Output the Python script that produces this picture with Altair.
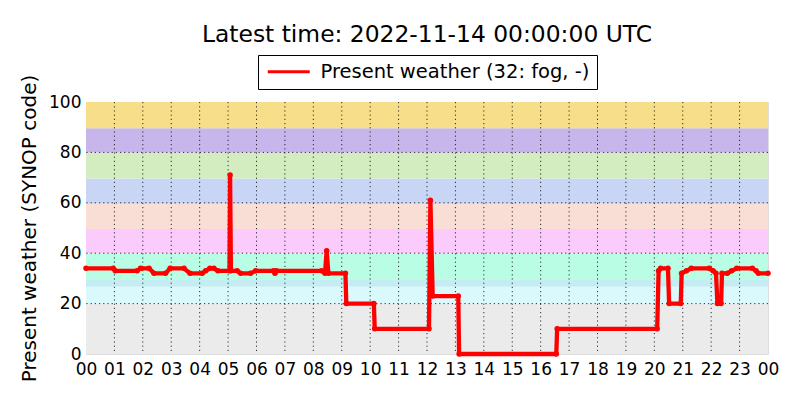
import altair as alt
import pandas as pd

# --- data ---------------------------------------------------------------
hours = [0.0, 0.96, 1.03, 1.8, 1.92, 2.22, 2.39, 2.8, 2.96, 3.45, 3.66, 4.09, 4.21,
         4.36, 4.5, 4.64, 5.05, 5.07, 5.1, 5.32, 5.44, 5.79, 5.97, 6.6, 6.65, 6.7,
         8.29, 8.41, 8.47, 8.53, 9.13, 9.16, 10.13, 10.16, 12.07, 12.12, 12.2, 13.1,
         13.13, 16.55, 16.58, 20.1, 20.15, 20.22, 20.48, 20.52, 20.93, 20.96, 21.13,
         21.3, 21.93, 22.07, 22.17, 22.22, 22.35, 22.38, 22.57, 22.72, 22.9, 23.45,
         23.58, 23.66, 24.0]
weather = [34, 34, 33, 33, 34, 34, 32, 32, 34, 34, 32, 32, 33,
           34, 34, 33, 33, 71, 33, 33, 32, 32, 33, 33, 32, 33,
           33, 32, 41, 32, 32, 20, 20, 10, 10, 61, 23, 23,
           0, 0, 10, 10, 33, 34, 34, 20, 20, 32, 33,
           34, 34, 33, 32, 20, 20, 32, 32, 33, 34, 34,
           33, 32, 32]

band_lo = [0, 19.8, 26.7, 29.4, 40, 49.6, 59.6, 69.6, 80, 89.6]
band_hi = [19.8, 26.7, 29.4, 40, 49.6, 59.6, 69.6, 80, 89.6, 100]
band_colors = ["#ebebeb", "#d9f9fd", "#c5ecf2", "#b9fde5", "#fbcbfb",
               "#f8ded5", "#c8d5f4", "#d3ecc0", "#c7b6eb", "#f7de8a"]

x_ticks = list(range(0, 25))
y_ticks = [0, 20, 40, 60, 80, 100]
x_grid = list(range(1, 24))
y_grid = [20, 40, 60, 80]

series_label = "Present weather (32: fog, -)"
title_text = "Latest time: 2022-11-14 00:00:00 UTC"

# --- tables -------------------------------------------------------------
df = pd.DataFrame({"h": hours, "ww": weather, "series": series_label})
bands = pd.DataFrame({"lo": band_lo, "hi": band_hi, "c": band_colors})
xg = pd.DataFrame({"h": x_grid})
yg = pd.DataFrame({"v": y_grid})

FONT = "DejaVu Sans"
W, H = 682, 252

xscale = alt.Scale(domain=[0, 24], nice=False, zero=False)
yscale = alt.Scale(domain=[0, 100], nice=False)

xaxis = alt.Axis(values=x_ticks, grid=False, ticks=False, domain=False,
                 labelFontSize=17, labelFont=FONT, labelColor="black",
                 labelOverlap=False, labelFlush=False, labelBound=False,
                 labelPadding=7, title=None,
                 labelExpr="(datum.value % 24) < 10 ? '0' + (datum.value % 24) : '' + datum.value")
yaxis = alt.Axis(values=y_ticks, grid=False, ticks=False, domain=False,
                 labelFontSize=17, labelFont=FONT, labelColor="black",
                 labelOverlap=False, labelFlush=False,
                 labelPadding=5, title="Present weather (SYNOP code)",
                 titleFontSize=20, titleFont=FONT, titleFontWeight="normal",
                 titleColor="black", titlePadding=9)

band_layer = alt.Chart(bands).mark_rect(opacity=1).encode(
    x=alt.value(0), x2=alt.value(W),
    y=alt.Y("lo:Q", scale=yscale, axis=yaxis),
    y2="hi:Q",
    color=alt.Color("c:N", scale=None),
)

vgrid = alt.Chart(xg).mark_rule(color="black", strokeWidth=1, strokeDash=[1.2, 3], opacity=0.8).encode(
    x=alt.X("h:Q", scale=xscale, axis=xaxis)
)
hgrid = alt.Chart(yg).mark_rule(color="black", strokeWidth=1, strokeDash=[1.2, 3], opacity=0.8).encode(
    y=alt.Y("v:Q", scale=yscale, axis=yaxis)
)

line = alt.Chart(df).mark_line(strokeWidth=4.3, strokeJoin="round", strokeCap="butt").encode(
    x=alt.X("h:Q", scale=xscale, axis=xaxis),
    y=alt.Y("ww:Q", scale=yscale, axis=yaxis),
    color=alt.Color("series:N",
                    scale=alt.Scale(domain=[series_label], range=["red"]),
                    legend=alt.Legend(
                        title=None, orient="none", legendX=172, legendY=-47,
                        symbolType="M-1,0H5", symbolSize=196, symbolStrokeWidth=3,
                        labelFontSize=19.5, labelFont=FONT, labelColor="black",
                        labelLimit=500, labelOffset=36,
                        strokeColor="black", fillColor="white", padding=7,
                        cornerRadius=0)),
)
pts = alt.Chart(df).mark_circle(size=30, color="red", opacity=1).encode(
    x=alt.X("h:Q", scale=xscale, axis=xaxis),
    y=alt.Y("ww:Q", scale=yscale, axis=yaxis),
)

chart = alt.layer(band_layer, vgrid, hgrid, line, pts).properties(
    width=W, height=H,
    title=alt.TitleParams(title_text, fontSize=23.4, font=FONT, fontWeight="normal",
                          color="black", anchor="middle", frame="group", offset=7),
    autosize=alt.AutoSizeParams(type="none"),
    padding={"left": 78, "top": 94, "right": 24, "bottom": 38},
).configure_view(stroke="black", strokeWidth=1.2).configure_axis(
    labelOverlap=False
).configure(background="white")

chart.save("out.html", embed_options={"renderer": "svg", "actions": False})
